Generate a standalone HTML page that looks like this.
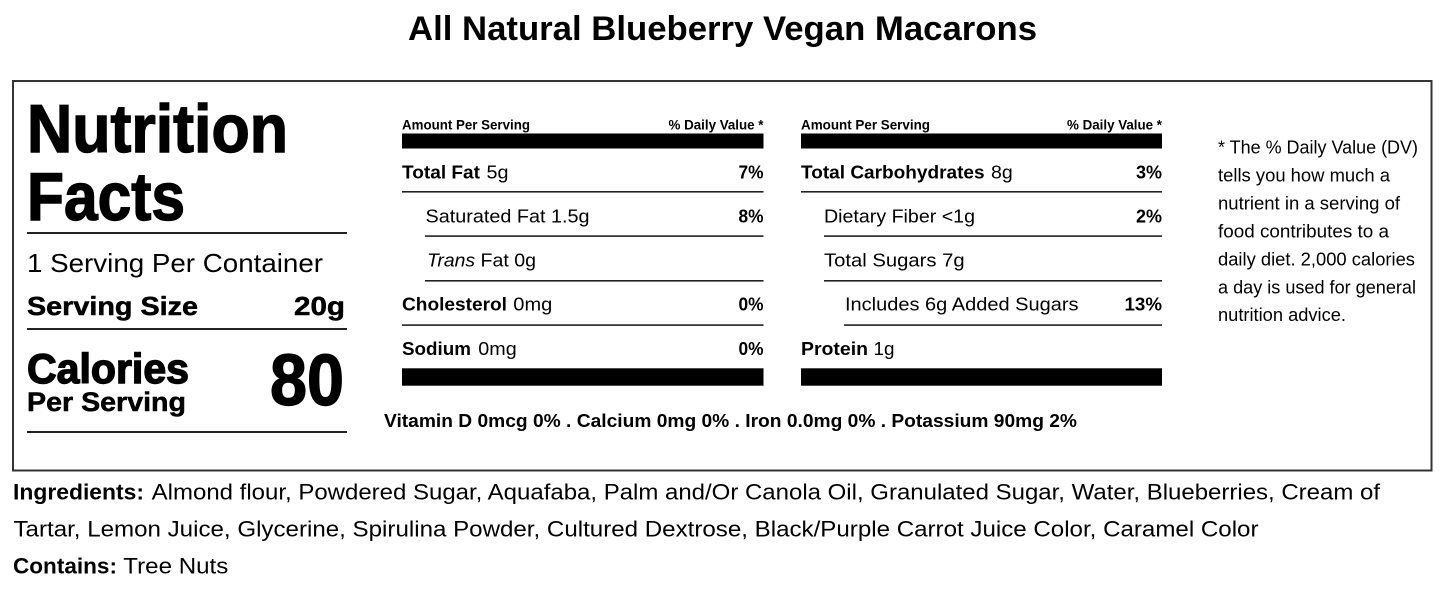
<!DOCTYPE html>
<html>
<head>
<meta charset="utf-8">
<style>
  html, body { margin: 0; padding: 0; background: #fff; }
  body { width: 1445px; height: 595px; overflow: hidden; }
  svg { display: block; }
  text { font-family: "Liberation Sans", Arial, sans-serif; fill: #000; }
  .b { font-weight: bold; }
  .hv { stroke: #000; stroke-width: 1.4; }
  .hm { stroke: #000; stroke-width: 0.5; }
</style>
</head>
<body>
<svg width="1445" height="595" viewBox="0 0 1445 595" xmlns="http://www.w3.org/2000/svg">
  <rect x="0" y="0" width="1445" height="595" fill="#fff"/>

  <!-- Title -->
  <text class="b" x="408" y="40" font-size="34" textLength="629" lengthAdjust="spacingAndGlyphs">All Natural Blueberry Vegan Macarons</text>

  <!-- Outer box -->
  <rect x="13" y="81" width="1418.5" height="389.5" fill="none" stroke="#333" stroke-width="2"/>

  <!-- Left column -->
  <text class="b hv" x="27" y="152" font-size="68" textLength="261" lengthAdjust="spacingAndGlyphs">Nutrition</text>
  <text class="b hv" x="27" y="220" font-size="68" textLength="158" lengthAdjust="spacingAndGlyphs">Facts</text>
  <rect x="27" y="232" width="320" height="2" fill="#222"/>
  <text x="27" y="272" font-size="26" textLength="296" lengthAdjust="spacingAndGlyphs">1 Serving Per Container</text>
  <text class="b hm" x="27" y="315" font-size="26" textLength="171" lengthAdjust="spacingAndGlyphs">Serving Size</text>
  <text class="b hm" x="345" y="315" font-size="26" text-anchor="end" textLength="51" lengthAdjust="spacingAndGlyphs">20g</text>
  <rect x="27" y="328" width="320" height="2" fill="#222"/>
  <text class="b hv" x="27" y="383" font-size="42" textLength="162" lengthAdjust="spacingAndGlyphs">Calories</text>
  <text class="b hm" x="27" y="411" font-size="27" textLength="159" lengthAdjust="spacingAndGlyphs">Per Serving</text>
  <text class="b hv" x="344" y="405" font-size="72" text-anchor="end" textLength="74" lengthAdjust="spacingAndGlyphs">80</text>
  <rect x="27" y="431" width="320" height="2" fill="#222"/>

  <!-- Middle column -->
  <text class="b" x="402" y="129.5" font-size="14" textLength="128" lengthAdjust="spacingAndGlyphs">Amount Per Serving</text>
  <text class="b" x="763.5" y="129.5" font-size="14" text-anchor="end" textLength="95" lengthAdjust="spacingAndGlyphs">% Daily Value *</text>
  <rect x="402" y="133.5" width="361.5" height="15" fill="#000"/>

  <text class="b" x="402" y="178.5" font-size="18.5" textLength="78" lengthAdjust="spacingAndGlyphs">Total Fat</text>
  <text x="486.5" y="178.5" font-size="18.5" textLength="22" lengthAdjust="spacingAndGlyphs">5g</text>
  <text class="b" x="763.5" y="178.5" font-size="18.5" text-anchor="end" textLength="25" lengthAdjust="spacingAndGlyphs">7%</text>
  <rect x="402" y="191" width="361.5" height="1.6" fill="#222"/>

  <text x="425.5" y="222.7" font-size="18.5" textLength="164" lengthAdjust="spacingAndGlyphs">Saturated Fat 1.5g</text>
  <text class="b" x="763.5" y="222.7" font-size="18.5" text-anchor="end" textLength="25" lengthAdjust="spacingAndGlyphs">8%</text>
  <rect x="425" y="235.3" width="338.5" height="1.6" fill="#222"/>

  <text x="427" y="266.7" font-size="18.5" font-style="italic" textLength="48" lengthAdjust="spacingAndGlyphs">Trans</text>
  <text x="480.5" y="266.7" font-size="18.5" textLength="55.5" lengthAdjust="spacingAndGlyphs">Fat 0g</text>
  <rect x="425" y="280" width="338.5" height="1.6" fill="#222"/>

  <text class="b" x="402" y="310.7" font-size="18.5" textLength="105" lengthAdjust="spacingAndGlyphs">Cholesterol</text>
  <text x="513.3" y="310.7" font-size="18.5" textLength="39" lengthAdjust="spacingAndGlyphs">0mg</text>
  <text class="b" x="763.5" y="310.7" font-size="18.5" text-anchor="end" textLength="25" lengthAdjust="spacingAndGlyphs">0%</text>
  <rect x="402" y="324.3" width="361.5" height="1.6" fill="#222"/>

  <text class="b" x="402" y="355" font-size="18.5" textLength="69" lengthAdjust="spacingAndGlyphs">Sodium</text>
  <text x="478.3" y="355" font-size="18.5" textLength="38.4" lengthAdjust="spacingAndGlyphs">0mg</text>
  <text class="b" x="763.5" y="355" font-size="18.5" text-anchor="end" textLength="25" lengthAdjust="spacingAndGlyphs">0%</text>
  <rect x="402" y="368.3" width="361.5" height="17.4" fill="#000"/>

  <!-- Right column -->
  <text class="b" x="801" y="129.5" font-size="14" textLength="129" lengthAdjust="spacingAndGlyphs">Amount Per Serving</text>
  <text class="b" x="1162" y="129.5" font-size="14" text-anchor="end" textLength="95" lengthAdjust="spacingAndGlyphs">% Daily Value *</text>
  <rect x="801" y="133.5" width="361" height="15" fill="#000"/>

  <text class="b" x="801" y="178.5" font-size="18.5" textLength="183.6" lengthAdjust="spacingAndGlyphs">Total Carbohydrates</text>
  <text x="991" y="178.5" font-size="18.5" textLength="21.7" lengthAdjust="spacingAndGlyphs">8g</text>
  <text class="b" x="1162" y="178.5" font-size="18.5" text-anchor="end" textLength="26" lengthAdjust="spacingAndGlyphs">3%</text>
  <rect x="801" y="191" width="361" height="1.6" fill="#222"/>

  <text x="824" y="222.7" font-size="18.5" textLength="151" lengthAdjust="spacingAndGlyphs">Dietary Fiber &lt;1g</text>
  <text class="b" x="1162" y="222.7" font-size="18.5" text-anchor="end" textLength="26" lengthAdjust="spacingAndGlyphs">2%</text>
  <rect x="824" y="235.3" width="338" height="1.6" fill="#222"/>

  <text x="824" y="266.7" font-size="18.5" textLength="140.6" lengthAdjust="spacingAndGlyphs">Total Sugars 7g</text>
  <rect x="824" y="280" width="338" height="1.6" fill="#222"/>

  <text x="845" y="310.7" font-size="18.5" textLength="233.5" lengthAdjust="spacingAndGlyphs">Includes 6g Added Sugars</text>
  <text class="b" x="1162" y="310.7" font-size="18.5" text-anchor="end" textLength="37.5" lengthAdjust="spacingAndGlyphs">13%</text>
  <rect x="844" y="324.3" width="318" height="1.6" fill="#222"/>

  <text class="b" x="801" y="355" font-size="18.5" textLength="67" lengthAdjust="spacingAndGlyphs">Protein</text>
  <text x="873.5" y="355" font-size="18.5" textLength="21" lengthAdjust="spacingAndGlyphs">1g</text>
  <rect x="801" y="368.3" width="361" height="17.4" fill="#000"/>

  <!-- Vitamins -->
  <text class="b" x="384" y="427" font-size="18.5" textLength="693" lengthAdjust="spacingAndGlyphs">Vitamin D 0mcg 0% . Calcium 0mg 0% . Iron 0.0mg 0% . Potassium 90mg 2%</text>

  <!-- Footnote -->
  <text x="1218" y="153.3" font-size="18" textLength="200" lengthAdjust="spacingAndGlyphs">* The % Daily Value (DV)</text>
  <text x="1218" y="181.7" font-size="18" textLength="172" lengthAdjust="spacingAndGlyphs">tells you how much a</text>
  <text x="1218" y="209.3" font-size="18" textLength="182" lengthAdjust="spacingAndGlyphs">nutrient in a serving of</text>
  <text x="1218" y="237.3" font-size="18" textLength="171" lengthAdjust="spacingAndGlyphs">food contributes to a</text>
  <text x="1218" y="265.3" font-size="18" textLength="197" lengthAdjust="spacingAndGlyphs">daily diet. 2,000 calories</text>
  <text x="1218" y="293.3" font-size="18" textLength="198" lengthAdjust="spacingAndGlyphs">a day is used for general</text>
  <text x="1218" y="321" font-size="18" textLength="128" lengthAdjust="spacingAndGlyphs">nutrition advice.</text>

  <!-- Ingredients -->
  <text class="b" x="13" y="499.5" font-size="22" textLength="131" lengthAdjust="spacingAndGlyphs">Ingredients:</text>
  <text x="151.7" y="499.5" font-size="22" textLength="1228.3" lengthAdjust="spacingAndGlyphs">Almond flour, Powdered Sugar, Aquafaba, Palm and/Or Canola Oil, Granulated Sugar, Water, Blueberries, Cream of</text>
  <text x="13.5" y="536.5" font-size="22" textLength="1245" lengthAdjust="spacingAndGlyphs">Tartar, Lemon Juice, Glycerine, Spirulina Powder, Cultured Dextrose, Black/Purple Carrot Juice Color, Caramel Color</text>
  <text class="b" x="13" y="573.3" font-size="22" textLength="104" lengthAdjust="spacingAndGlyphs">Contains:</text>
  <text x="123.3" y="573.3" font-size="22" textLength="105" lengthAdjust="spacingAndGlyphs">Tree Nuts</text>
</svg>
</body>
</html>
